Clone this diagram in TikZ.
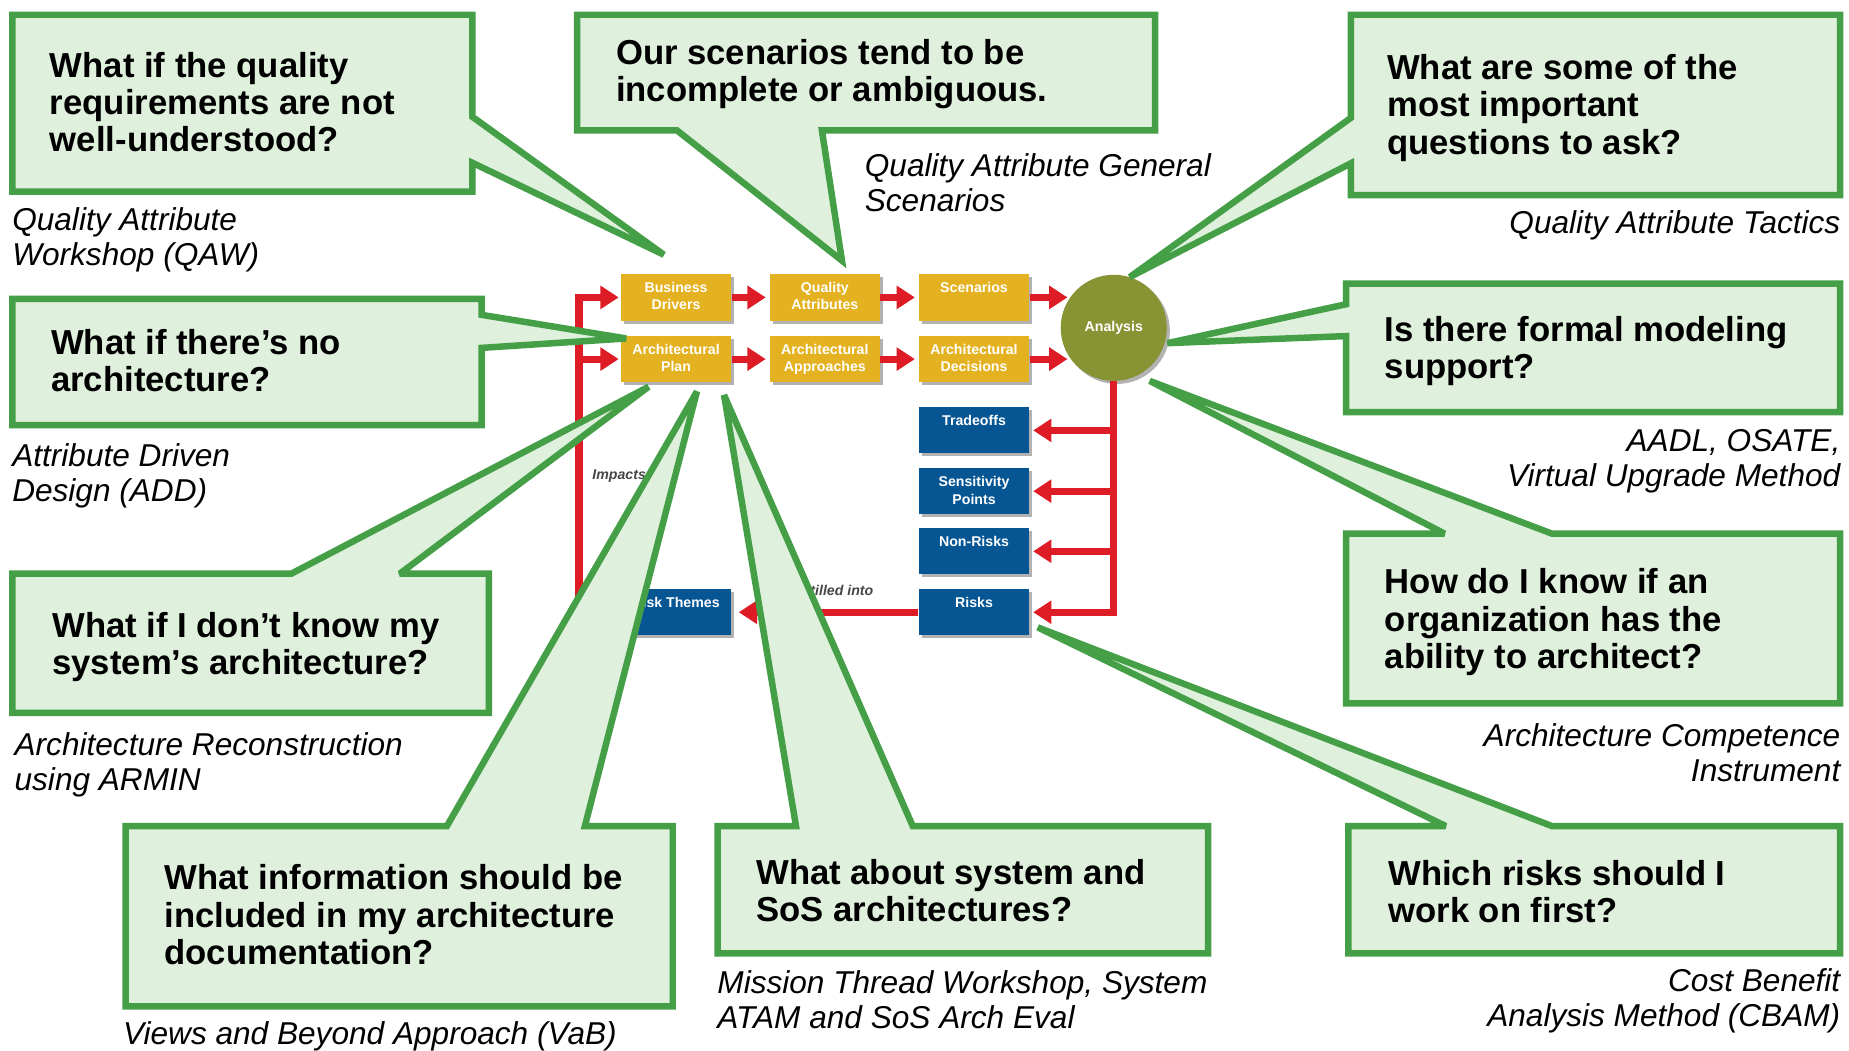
\documentclass[tikz,border=0pt]{standalone}
\usepackage{fontspec}
\setmainfont{Liberation Sans}
\usetikzlibrary{arrows.meta,shadows,calc}
\definecolor{cgreen}{RGB}{68,159,71}
\definecolor{cfill}{RGB}{223,240,221}
\definecolor{cyellow}{RGB}{228,178,32}
\definecolor{cblue}{RGB}{6,86,148}
\definecolor{cred}{RGB}{222,28,38}
\definecolor{colive}{RGB}{136,148,52}
\definecolor{clabel}{RGB}{70,70,70}
\begin{document}
\begin{tikzpicture}[x=0.5pt,y=-0.5pt,
  callout/.style={draw=cgreen, fill=cfill, line width=2.75pt, line join=miter, miter limit=3},
  qtext/.style={font=\bfseries\fontsize{14.7pt}{15.75pt}\selectfont, align=left, inner sep=0pt, anchor=north west},
  itext/.style={font=\itshape\fontsize{13.4pt}{14.8pt}\selectfont, inner sep=0pt},
  shad/.style={drop shadow={shadow xshift=1.3pt, shadow yshift=-1.3pt, fill=black, opacity=0.3}},
  ybox/.style={shad, fill=cyellow, minimum width=46.75pt, minimum height=19.75pt, inner sep=0pt},
  bbox/.style={shad, fill=cblue, minimum width=46.75pt, minimum height=19.5pt, inner sep=0pt},
  btext/.style={font=\bfseries\fontsize{6pt}{7.35pt}\selectfont, text=white, align=center, inner sep=0pt, anchor=north},
  circ/.style={shad, circle, fill=colive, minimum size=45pt, inner sep=0pt, font=\bfseries\fontsize{6pt}{7pt}\selectfont, text=white},
  rline/.style={draw=cred, line width=3pt},
  rarrow/.style={rline, -{Triangle[length=7.75pt,width=9.5pt]}},
  flowlabel/.style={font=\bfseries\itshape\fontsize{6pt}{7pt}\selectfont, text=clabel, inner sep=0pt}
]
\useasboundingbox (0,0) rectangle (1568,891);
\fill[white] (0,0) rectangle (1568,891);

% ---------- central ATAM diagram ----------
\node[ybox] (bd) at (573.3,252.2) {};
\node[ybox] (qa) at (699.5,252.2) {};
\node[ybox] (sc) at (826,252.2) {};
\node[ybox] (ap) at (573.3,304.5) {};
\node[ybox] (aa) at (699.5,304.5) {};
\node[ybox] (ad) at (826,304.5) {};
\node[bbox] (to) at (826,365) {};
\node[bbox] (sp) at (826,416.5) {};
\node[bbox] (nr) at (826,467.5) {};
\node[bbox] (rk) at (826,519.2) {};
\node[bbox] (rt) at (573.3,519.2) {};
\node[circ] (an) at (944.5,278) {Analysis};

\node[btext] (bdt) at ($(bd.north)+(0,7)$) {Business\\Drivers};
\node[btext] (qat) at ($(qa.north)+(0,7)$) {Quality\\Attributes};
\node[btext] (sct) at ($(sc.north)+(0,7)$) {Scenarios};
\node[btext] (apt) at ($(ap.north)+(0,7)$) {Architectural\\Plan};
\node[btext] (aat) at ($(aa.north)+(0,7)$) {Architectural\\Approaches};
\node[btext] (adt) at ($(ad.north)+(0,7)$) {Architectural\\Decisions};
\node[btext] (tot) at ($(to.north)+(0,7)$) {Tradeoffs};
\node[btext] (spt) at ($(sp.north)+(0,7)$) {Sensitivity\\Points};
\node[btext] (nrt) at ($(nr.north)+(0,7)$) {Non-Risks};
\node[btext] (rkt) at ($(rk.north)+(0,7)$) {Risks};
\node[btext] (rtt) at ($(rt.north)+(0,7)$) {Risk Themes};

% arrows along the rows
\draw[rarrow, shorten >=1.5pt] (bd.east) -- (qa.west);
\draw[rarrow, shorten >=1.5pt] (qa.east) -- (sc.west);
\draw[rarrow, shorten >=1.5pt] (sc.east) -- (an.143 |- sc.east);
\draw[rarrow, shorten >=1.5pt] (ap.east) -- (aa.west);
\draw[rarrow, shorten >=1.5pt] (aa.east) -- (ad.west);
\draw[rarrow, shorten >=1.5pt] (ad.east) -- (an.217 |- ad.east);

% analysis outputs
\coordinate (rb) at (an.south |- rk.east);
\draw[rline] (an.south) -- (rb);
\draw[rarrow, shorten >=1.5pt] (an.south |- to.east) -- (to.east);
\draw[rarrow, shorten >=1.5pt] (an.south |- sp.east) -- (sp.east);
\draw[rarrow, shorten >=1.5pt] (an.south |- nr.east) -- (nr.east);
\draw[rarrow, shorten >=1.5pt] ([xshift=1.5pt]rb) -- (rk.east);
\draw[rarrow, shorten >=3pt] (rk.west) -- (rt.east);
\node[flowlabel, anchor=east] (dl) at (741,501) {Distilled into};

% impacts loop
\coordinate (lb) at (491,519.2);
\draw[rarrow, shorten >=0.75pt] (rt.west) -- (lb) |- (bd.west);
\draw[rarrow, shorten >=0.75pt] (lb |- ap.west) -- (ap.west);
\node[flowlabel, anchor=west] (il) at (502,404) {Impacts};

% ---------- callouts ----------
% A
\draw[callout] (10.5,12.5) -- (400.5,12.5) -- (400.5,99) -- (563,216) -- (400.5,138) -- (400.5,162.5) -- (10.5,162.5) -- cycle;
% B
\draw[callout] (489.5,12.5) -- (979.5,12.5) -- (979.5,110.5) -- (697,110.5) -- (714,221) -- (574,110.5) -- (489.5,110.5) -- cycle;
% C
\draw[callout] (1145.5,12.5) -- (1560.5,12.5) -- (1560.5,165.5) -- (1145.5,165.5) -- (1145.5,138.5) -- (958,235) -- (1145.5,100) -- cycle;
% D
\draw[callout] (1141.5,240.5) -- (1560.5,240.5) -- (1560.5,349.5) -- (1141.5,349.5) -- (1141.5,285) -- (990,291) -- (1141.5,258) -- cycle;
% E
\draw[callout] (1141.5,452.5) -- (1225,452.5) -- (975,323) -- (1316,452.5) -- (1560.5,452.5) -- (1560.5,596.5) -- (1141.5,596.5) -- cycle;
% F
\draw[callout] (1143.5,700.5) -- (1226,700.5) -- (880,532) -- (1316,700.5) -- (1560.5,700.5) -- (1560.5,808.5) -- (1143.5,808.5) -- cycle;
% G
\draw[callout] (10.5,253.5) -- (408.5,253.5) -- (408.5,267) -- (531,287) -- (408.5,295) -- (408.5,360.5) -- (10.5,360.5) -- cycle;
% H
\draw[callout] (10.5,486.5) -- (247,486.5) -- (550,328) -- (339,486.5) -- (414.5,486.5) -- (414.5,604.5) -- (10.5,604.5) -- cycle;
% I
\draw[callout] (106.5,700.5) -- (379,700.5) -- (591,332) -- (496,700.5) -- (570.5,700.5) -- (570.5,853.5) -- (106.5,853.5) -- cycle;
% J
\draw[callout] (608.5,700.5) -- (675,700.5) -- (614,335) -- (774,700.5) -- (1024.5,700.5) -- (1024.5,808.5) -- (608.5,808.5) -- cycle;

% questions
\node[qtext] (qA) at (42,44) {What if the quality\\requirements are not\\well-understood?};
\node[qtext] (qB) at (522,33) {Our scenarios tend to be\\incomplete or ambiguous.};
\node[qtext] (qC) at (1176,46) {What are some of the\\most important\\questions to ask?};
\node[qtext] (qD) at (1174,268) {Is there formal modeling\\support?};
\node[qtext] (qE) at (1174,482) {How do I know if an\\organization has the\\ability to architect?};
\node[qtext] (qF) at (1177,729) {Which risks should I\\work on first?};
\node[qtext] (qG) at (43,279) {What if there’s no\\architecture?};
\node[qtext] (qH) at (44,519) {What if I don’t know my\\system’s architecture?};
\node[qtext] (qI) at (139,733) {What information should be\\included in my architecture\\documentation?};
\node[qtext] (qJ) at (641,728) {What about system and\\SoS architectures?};

% method labels
\node[itext, align=left, anchor=north west] (mA) at (10,176) {Quality Attribute\\Workshop (QAW)};
\node[itext, align=left, anchor=north west] (mB) at (733,130) {Quality Attribute General\\Scenarios};
\node[itext, align=right, anchor=north east] (mC) at (1561,178) {Quality Attribute Tactics};
\node[itext, align=right, anchor=north east] (mD) at (1561,364) {AADL, OSATE,\\Virtual Upgrade Method};
\node[itext, align=left, anchor=north west] (mG) at (10,376) {Attribute Driven\\Design (ADD)};
\node[itext, align=left, anchor=north west] (mH) at (12,621) {Architecture Reconstruction\\using ARMIN};
\node[itext, align=right, anchor=north east] (mE) at (1561,613) {Architecture Competence\\Instrument};
\node[itext, align=left, anchor=north west] (mI) at (104,866) {Views and Beyond Approach (VaB)};
\node[itext, align=left, anchor=north west] (mJ) at (608,823) {Mission Thread Workshop, System\\ATAM and SoS Arch Eval};
\node[itext, align=right, anchor=north east] (mF) at (1561,821) {Cost Benefit\\Analysis Method (CBAM)};
\end{tikzpicture}
\end{document}
